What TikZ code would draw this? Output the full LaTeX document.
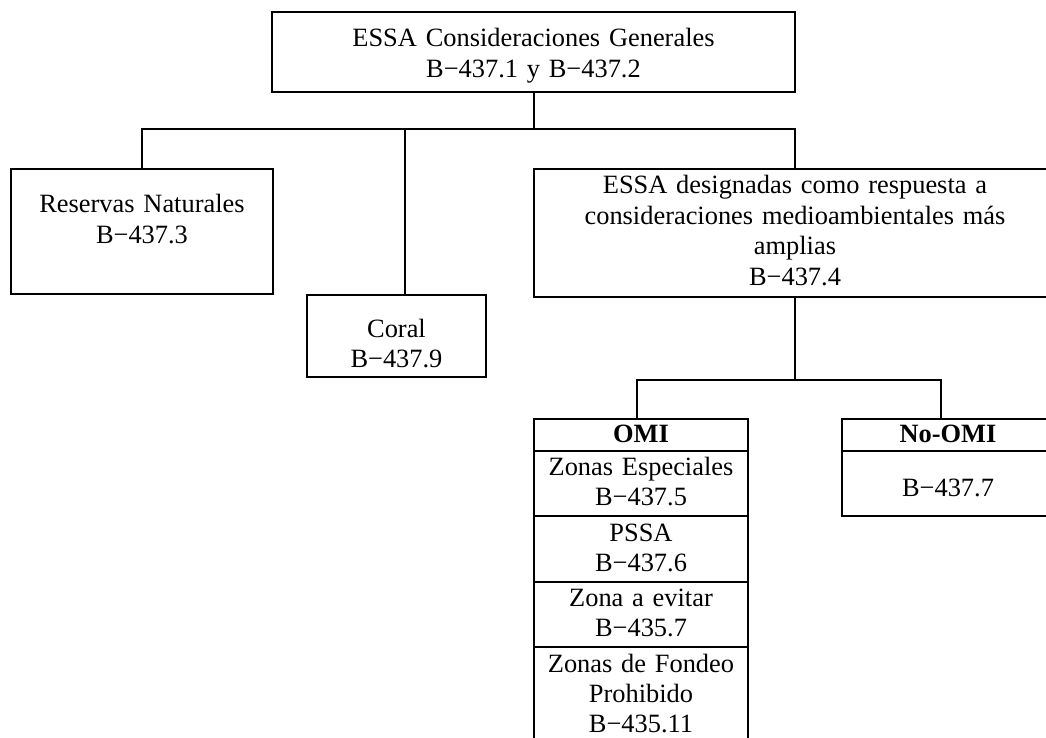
\documentclass[tikz,border=0pt]{standalone}
\usepackage{fontspec}
\setmainfont{Liberation Serif}
\usetikzlibrary{calc}
\begin{document}
\begin{tikzpicture}[x=0.5pt,y=-0.5pt,
  ln/.style={line width=1pt},
  box/.style={draw, line width=1pt, inner sep=0pt},
  lbl/.style={anchor=base, inner sep=0pt, align=center, text width=#1,
    font=\fontsize{13.2}{15.2}\selectfont},
  lbl/.default=200pt]
\clip (0,0) rectangle (1046,738);
% boxes
\node[box, minimum width=261.5pt, minimum height=40pt] (top) at (533.5,52) {};
\node[box, minimum width=131pt, minimum height=62.5pt] (res) at (142,231.5) {};
\node[box, minimum width=89.5pt, minimum height=41pt] (coral) at (396.5,336) {};
\node[box, minimum width=261pt, minimum height=64pt] (essa) at (795,233) {};
\node[box, minimum width=107pt, minimum height=175.5pt] (omi) at (641,594.5) {};
\node[box, minimum width=106pt, minimum height=48.5pt] (noomi) at (948,467.5) {};
% row dividers
\draw[ln] (omi.west |- 0,451) -- (omi.east |- 0,451);
\draw[ln] (omi.west |- 0,516) -- (omi.east |- 0,516);
\draw[ln] (omi.west |- 0,582) -- (omi.east |- 0,582);
\draw[ln] (omi.west |- 0,647) -- (omi.east |- 0,647);
\draw[ln] (noomi.west |- 0,451) -- (noomi.east |- 0,451);
% texts
\node[lbl] (topT) at (533.5,47) {ESSA Consideraciones Generales\\B−437.1 y B−437.2};
\node[lbl] (resT) at (142,213) {Reservas Naturales\\B−437.3};
\node[lbl] (coralT) at (396.5,337) {Coral\\B−437.9};
\node[lbl=250pt] (essaT) at (795,194) {ESSA designadas como respuesta a\\consideraciones medioambientales más\\amplias\\B−437.4};
\node[lbl] (omiH) at (641,443) {\textbf{OMI}};
\node[lbl] (omi1) at (641,475) {Zonas Especiales\\B−437.5};
\node[lbl] (omi2) at (641,541) {PSSA\\B−437.6};
\node[lbl] (omi3) at (641,606) {Zona a evitar\\B−435.7};
\node[lbl] (omi4) at (641,672) {Zonas de Fondeo\\Prohibido\\B−435.11};
\node[lbl] (noH) at (948,443) {\textbf{No-OMI}};
\node[lbl] (no1) at (948,496) {B−437.7};
% connectors
\draw[ln] (top.south) -- ++(0,36) coordinate (bus1);
\draw[ln] (res.north) |- (essa.north |- bus1) -- (essa.north);
\draw[ln] ($(coral.north)+(8.5,0)$) |- (bus1);
\draw[ln] (essa.south) -- ++(0,82) coordinate (bus2);
\draw[ln] ($(omi.north)+(-4,0)$) |- (bus2);
\draw[ln] ($(noomi.north)+(-7,0)$) |- (bus2);
\end{tikzpicture}
\end{document}
